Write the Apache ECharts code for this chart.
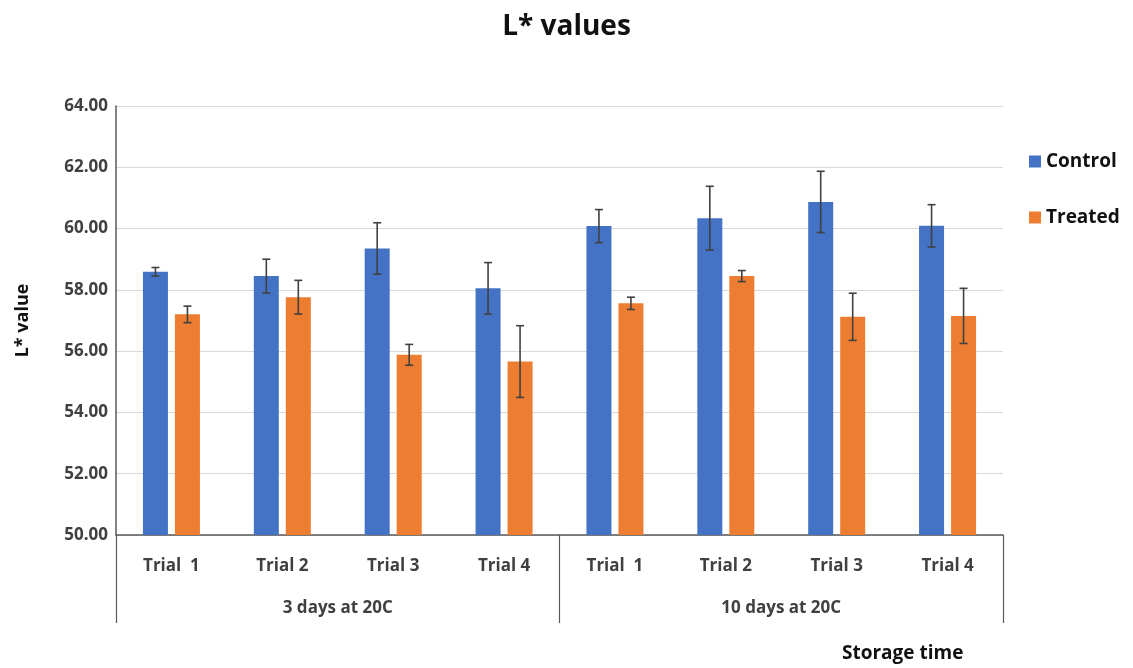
<!DOCTYPE html>
<html>
<head>
<meta charset="utf-8">
<script src="https://cdn.jsdelivr.net/npm/echarts@6/dist/echarts.min.js"></script>
<style>
  html, body { margin: 0; padding: 0; background: #fff; }
  #chart { width: 1133px; height: 668px; }
</style>
</head>
<body>
<div id="chart"></div>
<script>
// Trials within each storage period
const trials = ['Trial  1', 'Trial 2', 'Trial 3', 'Trial 4', 'Trial  1', 'Trial 2', 'Trial 3', 'Trial 4'];
const storageGroups = ['3 days at 20C', '10 days at 20C'];

// Mean L* values
const controlMeans = [58.59, 58.45, 59.35, 58.05, 60.08, 60.34, 60.87, 60.09];
const treatedMeans = [57.20, 57.76, 55.88, 55.66, 57.56, 58.45, 57.12, 57.15];

// Standard deviations (error bar half-lengths)
const controlErr = [0.14, 0.55, 0.84, 0.84, 0.54, 1.04, 1.00, 0.69];
const treatedErr = [0.27, 0.55, 0.34, 1.17, 0.20, 0.18, 0.77, 0.90];

// Y axis ticks
const yMin = 50, yMax = 64, yStep = 2;

const BAR_W = 25;
const BAR_OFFSET = 16;   // distance from category centre to each bar centre
const CAP = 4;

function errorSeries(means, errs, dx) {
  return {
    type: 'custom',
    silent: true,
    z: 5,
    data: means.map((m, i) => [i, m - errs[i], m + errs[i]]),
    renderItem: function (params, api) {
      const lo = api.coord([api.value(0), api.value(1)]);
      const hi = api.coord([api.value(0), api.value(2)]);
      const x = lo[0] + dx;
      const style = { stroke: '#404040', lineWidth: 1.6 };
      return {
        type: 'group',
        children: [
          { type: 'line', shape: { x1: x, y1: lo[1], x2: x, y2: hi[1] }, style },
          { type: 'line', shape: { x1: x - CAP, y1: lo[1], x2: x + CAP, y2: lo[1] }, style },
          { type: 'line', shape: { x1: x - CAP, y1: hi[1], x2: x + CAP, y2: hi[1] }, style }
        ]
      };
    }
  };
}

const FONT = '"Open Sans", Lato, sans-serif';
const LABEL = { fontSize: 17, fontWeight: 'bold', color: '#404040', fontFamily: FONT };

const chart = echarts.init(document.getElementById('chart'));
chart.setOption({
  animation: false,
  backgroundColor: '#ffffff',
  textStyle: { fontFamily: FONT },
  title: [
    {
      text: 'L* values',
      left: 'center',
      top: 8,
      textStyle: { fontSize: 28, fontWeight: 'bold', color: '#111', fontFamily: FONT }
    },
    {
      text: 'Storage time',
      left: 837,
      top: 639,
      textStyle: { fontSize: 19, fontWeight: 'bold', color: '#111', fontFamily: FONT }
    }
  ],
  legend: {
    orient: 'vertical',
    left: 1024,
    top: 147,
    itemWidth: 12,
    itemHeight: 12,
    itemGap: 37,
    icon: 'rect',
    textStyle: { fontSize: 19, fontWeight: 'bold', color: '#111', fontFamily: FONT },
    data: ['Control', 'Treated']
  },
  grid: { left: 116, right: 130, top: 106, bottom: 133 },
  xAxis: [
    {
      type: 'category',
      data: trials,
      axisLine: { show: true, lineStyle: { color: '#595959', width: 1.5 } },
      axisTick: { show: false },
      axisLabel: Object.assign({ margin: 23 }, LABEL)
    },
    {
      type: 'category',
      data: storageGroups,
      position: 'bottom',
      axisLine: { show: false },
      axisTick: { show: true, length: 88, lineStyle: { color: '#595959', width: 1.2 } },
      axisLabel: Object.assign({ margin: 65 }, LABEL)
    }
  ],
  yAxis: {
    type: 'value',
    min: yMin,
    max: yMax,
    interval: yStep,
    name: 'L* value',
    nameLocation: 'middle',
    nameGap: 84,
    nameRotate: 90,
    nameTextStyle: { fontSize: 18, fontWeight: 'bold', color: '#111', fontFamily: FONT },
    axisLine: { show: true, lineStyle: { color: '#595959', width: 1.5 } },
    axisTick: { show: false },
    splitLine: { lineStyle: { color: '#d9d9d9', width: 1.2 } },
    axisLabel: Object.assign({ margin: 8, formatter: v => v.toFixed(2) }, LABEL)
  },
  series: [
    {
      name: 'Control',
      type: 'bar',
      data: controlMeans,
      barWidth: BAR_W,
      barGap: '28%',
      itemStyle: { color: '#4472C4' }
    },
    {
      name: 'Treated',
      type: 'bar',
      data: treatedMeans,
      barWidth: BAR_W,
      barGap: '28%',
      itemStyle: { color: '#ED7D31' }
    },
    errorSeries(controlMeans, controlErr, -BAR_OFFSET),
    errorSeries(treatedMeans, treatedErr, BAR_OFFSET)
  ]
});
</script>
</body>
</html>
